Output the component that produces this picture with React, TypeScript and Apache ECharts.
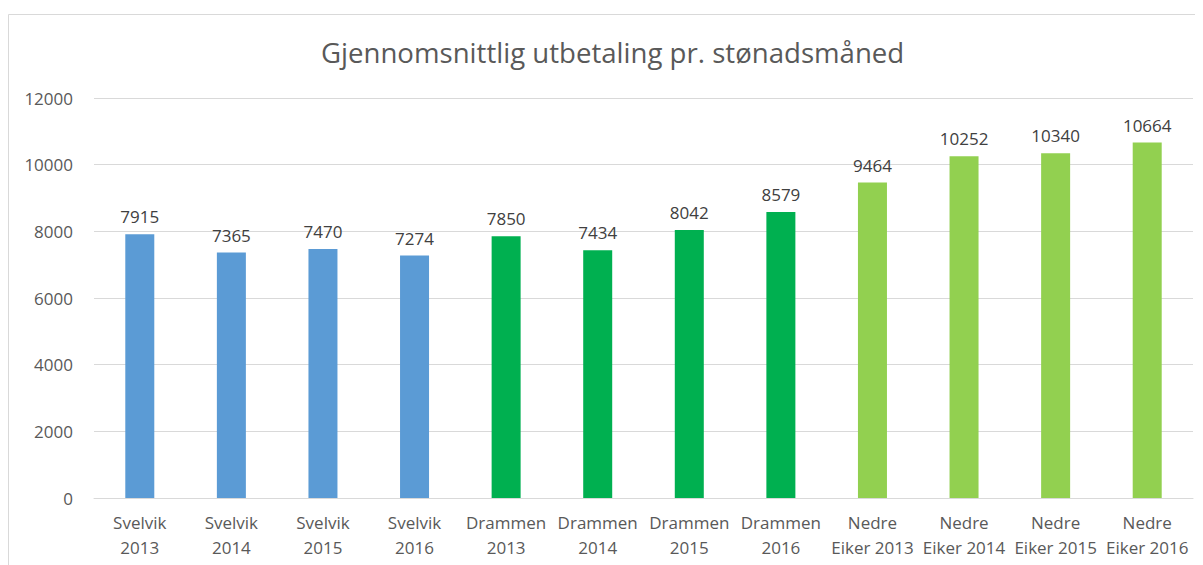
import React, { useEffect, useRef } from "react";
import * as echarts from "echarts";

const categories = [
  "Svelvik\n2013", "Svelvik\n2014", "Svelvik\n2015", "Svelvik\n2016",
  "Drammen\n2013", "Drammen\n2014", "Drammen\n2015", "Drammen\n2016",
  "Nedre\nEiker 2013", "Nedre\nEiker 2014", "Nedre\nEiker 2015", "Nedre\nEiker 2016",
];
const values = [7915, 7365, 7470, 7274, 7850, 7434, 8042, 8579, 9464, 10252, 10340, 10664];
const barColors = [
  "#5B9BD5", "#5B9BD5", "#5B9BD5", "#5B9BD5",
  "#00B050", "#00B050", "#00B050", "#00B050",
  "#92D050", "#92D050", "#92D050", "#92D050",
];
const title = "Gjennomsnittlig utbetaling pr. stønadsmåned";

const FONT = "'Open Sans', 'Noto Sans', sans-serif";

export default function App() {
  const ref = useRef<HTMLDivElement>(null);
  useEffect(() => {
    if (!ref.current) return;
    const chart = echarts.init(ref.current, null, { renderer: "svg" });
    chart.setOption({
      animation: false,
      textStyle: { fontFamily: FONT },
      graphic: [
        {
          type: "rect",
          shape: { x: 0.5, y: 6.5, width: 1300, height: 700 },
          style: { fill: "none", stroke: "#d9d9d9", lineWidth: 1 },
          silent: true,
        },
      ],
      title: {
        text: title,
        left: 308,
        top: 25,
        textStyle: { fontFamily: FONT, fontSize: 27.6, fontWeight: "normal", color: "#595959" },
      },
      grid: { left: 86, right: 10, top: 90, bottom: 67, containLabel: false },
      xAxis: {
        type: "category",
        data: categories,
        axisLine: { lineStyle: { color: "#d9d9d9" } },
        axisTick: { show: false },
        axisLabel: {
          color: "#595959",
          fontSize: 17,
          fontFamily: FONT,
          lineHeight: 25,
          margin: 12,
          interval: 0,
        },
      },
      yAxis: {
        type: "value",
        min: 0,
        max: 12000,
        interval: 2000,
        axisLine: { show: false },
        axisTick: { show: false },
        axisLabel: {
          color: "#595959",
          fontSize: 17,
          fontFamily: FONT,
          margin: 21,
          formatter: (v: number) => String(v),
        },
        splitLine: { lineStyle: { color: "#d9d9d9" } },
      },
      series: [
        {
          type: "bar",
          data: values.map((v, i) => ({ value: v, itemStyle: { color: barColors[i] } })),
          barWidth: 29,
          label: {
            show: true,
            position: "top",
            distance: 9,
            color: "#404040",
            fontSize: 17,
            fontFamily: FONT,
          },
        },
      ],
    });
    return () => chart.dispose();
  }, []);
  return <div ref={ref} style={{ width: 1195, height: 557 }} />;
}
